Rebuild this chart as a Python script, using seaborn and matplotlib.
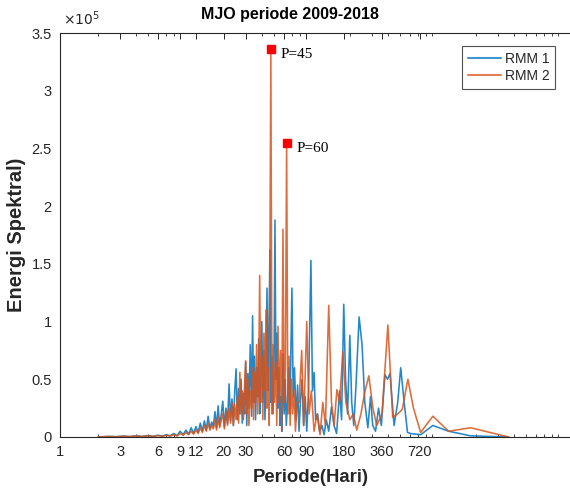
import numpy as np
import pandas as pd
import matplotlib
matplotlib.use("Agg")
import matplotlib.pyplot as plt
from matplotlib.ticker import FixedLocator, FixedFormatter, LogLocator, NullFormatter
import seaborn as sns

# ---- data (periods in days, spectral energy in units of 1e5) ----
rmm1_period = [2.0, 2.4, 2.8, 3.2, 3.6, 4.0, 4.5, 5.0, 5.5, 6.0, 6.5, 7.0, 7.5, 8.0, 8.5,
               9.0, 9.5, 10.0, 10.5, 11.0, 11.5, 12.0, 12.5, 13.0, 13.5, 14.0, 14.5, 15.0,
               15.5, 16.0, 16.5, 17.0, 17.5, 18.0, 18.5, 19.0, 19.6, 20.2, 20.8, 21.4, 22.0,
               22.6, 23.2, 23.8, 24.4, 25.0, 25.6, 26.2, 26.8, 27.4, 28.0, 28.6, 29.2, 29.8,
               30.4, 31.0, 31.6, 32.4, 33.2, 33.8, 34.4, 35.0, 35.7, 36.4, 37.1, 37.8, 38.5,
               39.2, 40.0, 40.8, 41.6, 42.4, 43.2, 44.0, 44.8, 45.6, 46.4, 47.3, 48.2, 49.1,
               50.0, 50.9, 51.8, 52.8, 53.8, 54.8, 55.8, 56.8, 57.9, 59.0, 60.2, 61.4, 62.6,
               64.0, 65.4, 67.0, 68.2, 69.4, 71.0, 72.8, 74.9, 77.0, 79.0, 81.0, 83.5, 86.0,
               88.5, 91.0, 94.0, 98.2, 101.0, 104.0, 107.0, 111.0, 115.0, 120.0, 125.0, 130.0,
               136.0, 143.0, 150.0, 157.0, 166.0, 172.0, 179.0, 185.0, 192.0, 200.0, 207.0,
               215.0, 224.0, 237.0, 250.0, 263.0, 278.0, 292.0, 304.0, 320.0, 338.0, 356.0,
               380.0, 398.0, 417.0, 449.0, 480.0, 507.0, 540.0, 574.0, 608.0, 730.0, 913.0,
               1217.0, 1825.0, 3650.0]
rmm1_energy = [0.0, 0.005, 0.003, 0.008, 0.004, 0.01, 0.005, 0.012, 0.006, 0.015, 0.008, 0.02, 0.01, 0.03, 0.012,
               0.05, 0.02, 0.06, 0.025, 0.08, 0.03, 0.09, 0.04, 0.12, 0.05, 0.14, 0.06, 0.18,
               0.07, 0.13, 0.09, 0.22, 0.08, 0.27, 0.1, 0.18, 0.31, 0.09, 0.25, 0.12, 0.46,
               0.14, 0.33, 0.1, 0.4, 0.59, 0.15, 0.42, 0.2, 0.5, 0.12, 0.38, 0.2, 0.65,
               0.1, 0.55, 0.25, 0.8, 0.18, 1.05, 0.3, 0.7, 0.15, 0.6, 0.35, 0.85, 0.2,
               0.45, 1.0, 0.3, 0.75, 0.15, 0.6, 1.29, 0.4, 0.9, 1.62, 0.3, 0.7, 0.2,
               0.55, 1.88, 0.5, 0.9, 0.25, 0.6, 0.1, 0.35, 0.05, 0.72, 0.2, 0.5, 0.1,
               0.3, 0.6, 0.2, 0.8, 1.29, 0.35, 0.6, 0.15, 0.45, 0.05, 0.3, 0.5, 0.1,
               0.35, 0.05, 0.4, 1.53, 0.4, 0.56, 0.15, 0.2, 0.05, 0.1, 0.02, 0.15,
               0.05, 0.26, 0.1, 0.03, 0.4, 0.15, 1.15, 0.5, 0.2, 0.88, 0.3,
               0.1, 0.45, 1.04, 0.8, 0.3, 0.08, 0.35, 0.1, 0.05, 0.25, 0.1,
               0.54, 0.5, 0.55, 0.1, 0.3, 0.6, 0.3, 0.04, 0.03, 0.02, 0.1,
               0.05, 0.01, 0.0]

rmm2_period = [2.0, 2.4, 2.8, 3.2, 3.6, 4.0, 4.5, 5.0, 5.5, 6.0, 6.5, 7.0, 7.5, 8.0, 8.5,
               9.0, 9.5, 10.0, 10.5, 11.0, 11.5, 12.0, 12.5, 13.0, 13.5, 14.0, 14.5, 15.0,
               15.5, 16.0, 16.5, 17.0, 17.5, 18.0, 18.5, 19.0, 19.6, 20.2, 20.8, 21.4, 22.0,
               22.6, 23.2, 23.8, 24.4, 25.0, 25.6, 26.2, 26.8, 27.4, 28.0, 28.6, 29.2, 29.8,
               30.4, 31.0, 31.6, 32.4, 33.2, 33.8, 34.4, 35.0, 35.7, 36.4, 37.1, 37.8, 38.5,
               39.2, 40.0, 40.8, 41.6, 42.4, 43.2, 44.0, 44.8, 45.8, 47.2, 48.2, 49.2, 50.4,
               51.6, 52.6, 53.8, 55.0, 56.3, 57.6, 58.9, 60.2, 61.6, 63.0, 64.4, 65.8, 67.2,
               68.6, 70.2, 72.0, 74.0, 76.5, 79.0, 83.0, 86.0, 91.0, 95.0, 99.0, 104.0, 110.0,
               116.0, 122.0, 128.0, 136.0, 143.0, 150.0, 158.0, 166.0, 176.0, 186.0, 200.0,
               213.0, 227.0, 245.0, 262.0, 283.0, 305.0, 327.0, 360.0, 401.0, 438.0, 480.0,
               522.0, 578.0, 640.0, 730.0, 913.0, 1217.0, 1825.0, 3650.0]
rmm2_energy = [0.0, 0.004, 0.002, 0.006, 0.003, 0.008, 0.004, 0.01, 0.005, 0.012, 0.006, 0.015, 0.008, 0.02, 0.01,
               0.03, 0.015, 0.04, 0.02, 0.05, 0.025, 0.06, 0.03, 0.08, 0.04, 0.1, 0.05, 0.12,
               0.06, 0.1, 0.07, 0.15, 0.06, 0.18, 0.08, 0.14, 0.2, 0.07, 0.22, 0.1, 0.25,
               0.12, 0.3, 0.1, 0.28, 0.15, 0.35, 0.12, 0.56, 0.2, 0.4, 0.15, 0.45, 0.66,
               0.2, 0.5, 0.1, 0.4, 0.25, 0.6, 0.15, 0.56, 0.3, 0.8, 0.2, 0.55, 1.4,
               0.3, 0.7, 0.15, 0.9, 0.4, 1.1, 0.25, 0.6, 0.1, 3.36, 0.2, 0.8, 0.3,
               0.65, 0.1, 0.96, 0.3, 0.75, 0.05, 1.8, 0.3, 0.6, 2.55, 0.2, 0.7, 0.1,
               0.5, 0.2, 0.4, 0.05, 0.3, 0.3, 0.75, 0.1, 1.0, 0.2, 0.4, 0.05, 0.2,
               0.02, 0.3, 0.1, 1.14, 0.3, 0.1, 0.41, 0.3, 0.74, 0.3, 0.15,
               0.2, 0.06, 0.2, 0.38, 0.53, 0.25, 0.1, 0.2, 0.97, 0.17, 0.2,
               0.24, 0.5, 0.25, 0.04, 0.18, 0.05, 0.08, 0.0]

peak_period = [47.2, 63.0]
peak_energy = [3.36, 2.55]
peak_labels = ["P=45", "P=60"]

xtick_values = [1, 3, 6, 9, 12, 20, 30, 60, 90, 180, 360, 720]
xtick_labels = ["1", "3", "6", "9", "12", "20", "30", "60", "90", "180", "360", "720"]
ytick_values = [0, 0.5, 1, 1.5, 2, 2.5, 3, 3.5]
ytick_labels = ["0", "0.5", "1", "1.5", "2", "2.5", "3", "3.5"]

df1 = pd.DataFrame({"period": rmm1_period, "energy": rmm1_energy})
df2 = pd.DataFrame({"period": rmm2_period, "energy": rmm2_energy})

sns.set_style("white")
plt.rcParams["font.family"] = ["Liberation Sans", "DejaVu Sans"]

W, H = 570, 491
fig = plt.figure(figsize=(W / 100, H / 100), dpi=100)
left_px, right_px, top_px, bot_px = 60, 589, 33, 437
ax = fig.add_axes([left_px / W, 1 - bot_px / H, (right_px - left_px) / W, (bot_px - top_px) / H])

blue = "#0072BD"
orange = "#D95319"
sns.lineplot(data=df1, x="period", y="energy", ax=ax, color=blue, lw=1.15, alpha=0.85,
             label="RMM 1", estimator=None, sort=False)
sns.lineplot(data=df2, x="period", y="energy", ax=ax, color=orange, lw=1.15, alpha=0.85,
             label="RMM 2", estimator=None, sort=False)

ax.set_xscale("log")
ax.set_xlim(1, 10 ** 4.2)
ax.set_ylim(0, 3.5)

ax.xaxis.set_major_locator(FixedLocator(xtick_values))
ax.xaxis.set_major_formatter(FixedFormatter(xtick_labels))
ax.xaxis.set_minor_locator(LogLocator(base=10, subs=np.arange(2, 10), numticks=20))
ax.xaxis.set_minor_formatter(NullFormatter())
ax.yaxis.set_major_locator(FixedLocator(ytick_values))
ax.yaxis.set_major_formatter(FixedFormatter(ytick_labels))

tc = "#262626"
ax.tick_params(axis="both", which="major", direction="in", length=4, width=0.7,
               top=True, right=True, labelsize=10.5, colors=tc, pad=6)
ax.tick_params(axis="x", which="minor", direction="in", length=2, width=0.6,
               top=True, bottom=True, colors=tc)
for s in ax.spines.values():
    s.set_color(tc)
    s.set_linewidth(0.8)

# peak markers
ax.plot(peak_period, peak_energy, "s", color="red", markersize=6, zorder=5)
for p, e, lab in zip(peak_period, peak_energy, peak_labels):
    ax.annotate(lab, (p, e), xytext=(7, -4), textcoords="offset points",
                fontsize=11, family=["Liberation Serif", "DejaVu Serif"],
                va="center", ha="left", color="black")

fig.text(290 / W, 1 - 14 / H, "MJO periode 2009-2018", fontsize=11.5, fontweight="bold",
         color="black", ha="center", va="center")
ax.set_xlabel("Periode(Hari)", fontsize=13.3, fontweight="bold", color=tc)
ax.xaxis.set_label_coords((311 - left_px) / (right_px - left_px), -(478 - bot_px) / (bot_px - top_px))
ax.xaxis.label.set_va("center")
ax.set_ylabel("Energi Spektral)", fontsize=14.5, fontweight="bold", color=tc)
ax.yaxis.set_label_coords(-(60 - 17) / (right_px - left_px), 0.5)
ax.yaxis.label.set_va("center")
fig.text(63 / W, 1 - 19 / H, r"$\times10^5$", fontsize=10, color=tc, va="center", ha="left",
         family=["Liberation Sans", "DejaVu Sans"])

leg = ax.legend(loc="upper left", bbox_to_anchor=(462 / W, 1 - 46 / H),
                bbox_transform=fig.transFigure, frameon=True, fancybox=False,
                fontsize=10, handlelength=2.4, borderpad=0.4, labelspacing=0.25,
                handletextpad=0.3, borderaxespad=0)
leg.get_frame().set_edgecolor("#262626")
leg.get_frame().set_linewidth(0.8)
for line in leg.get_lines():
    line.set_alpha(0.75)
    line.set_linewidth(1.5)

fig.savefig("out.png", dpi=100)
